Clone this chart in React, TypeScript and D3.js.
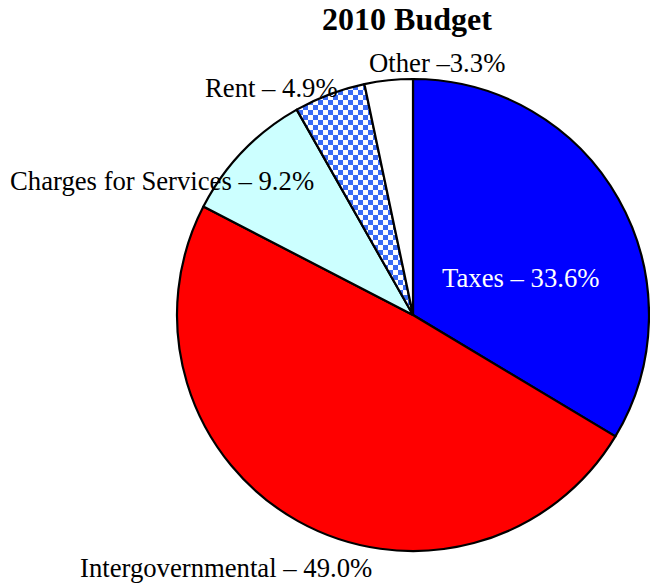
import React from "react";
import * as d3 from "d3";

const categories = ["Taxes", "Intergovernmental", "Charges for Services", "Rent", "Other"];
const values = [33.6, 49.0, 9.2, 4.9, 3.3];
const labels = ["Taxes – 33.6%", "Intergovernmental – 49.0%", "Charges for Services – 9.2%", "Rent – 4.9%", "Other –3.3%"];
const fills = ["#0000FF", "#FF0000", "#CCFFFF", "url(#checker)", "#FFFFFF"];
const labelColors = ["#FFFFFF", "#000000", "#000000", "#000000", "#000000"];
// label anchor positions (x, baseline y)
const labelPos: [number, number][] = [
  [442, 287],
  [80, 577],
  [10, 190],
  [205, 97],
  [369, 72],
];

export default function App() {
  const W = 650, H = 586;
  const cx = 413, cy = 315, r = 236;
  const pie = d3.pie<number>().sort(null).value((d) => d)(values);
  const arc = d3.arc<d3.PieArcDatum<number>>().innerRadius(0).outerRadius(r);
  return (
    <svg width={W} height={H} style={{ position: "absolute", left: 0, top: 0 }}>
      <defs>
        <pattern id="checker" width={10} height={10} patternUnits="userSpaceOnUse">
          <rect width={10} height={10} fill="#FFFFFF" />
          <rect width={5} height={5} fill="#3A6AF5" />
          <rect x={5} y={5} width={5} height={5} fill="#3A6AF5" />
        </pattern>
      </defs>
      <rect width={W} height={H} fill="#fff" />
      <text x={407} y={30} textAnchor="middle" fontFamily="Liberation Serif" fontWeight="bold" fontSize={32}>
        2010 Budget
      </text>
      <g transform={`translate(${cx},${cy})`}>
        {pie.map((p, i) => (
          <path key={categories[i]} d={arc(p) || ""} fill={fills[i]} stroke="#000" strokeWidth={2.2} strokeLinejoin="round" />
        ))}
      </g>
      {labels.map((t, i) => (
        <text key={t} x={labelPos[i][0]} y={labelPos[i][1]} fontFamily="Liberation Serif" fontSize={26.7} fill={labelColors[i]}>
          {t}
        </text>
      ))}
    </svg>
  );
}
